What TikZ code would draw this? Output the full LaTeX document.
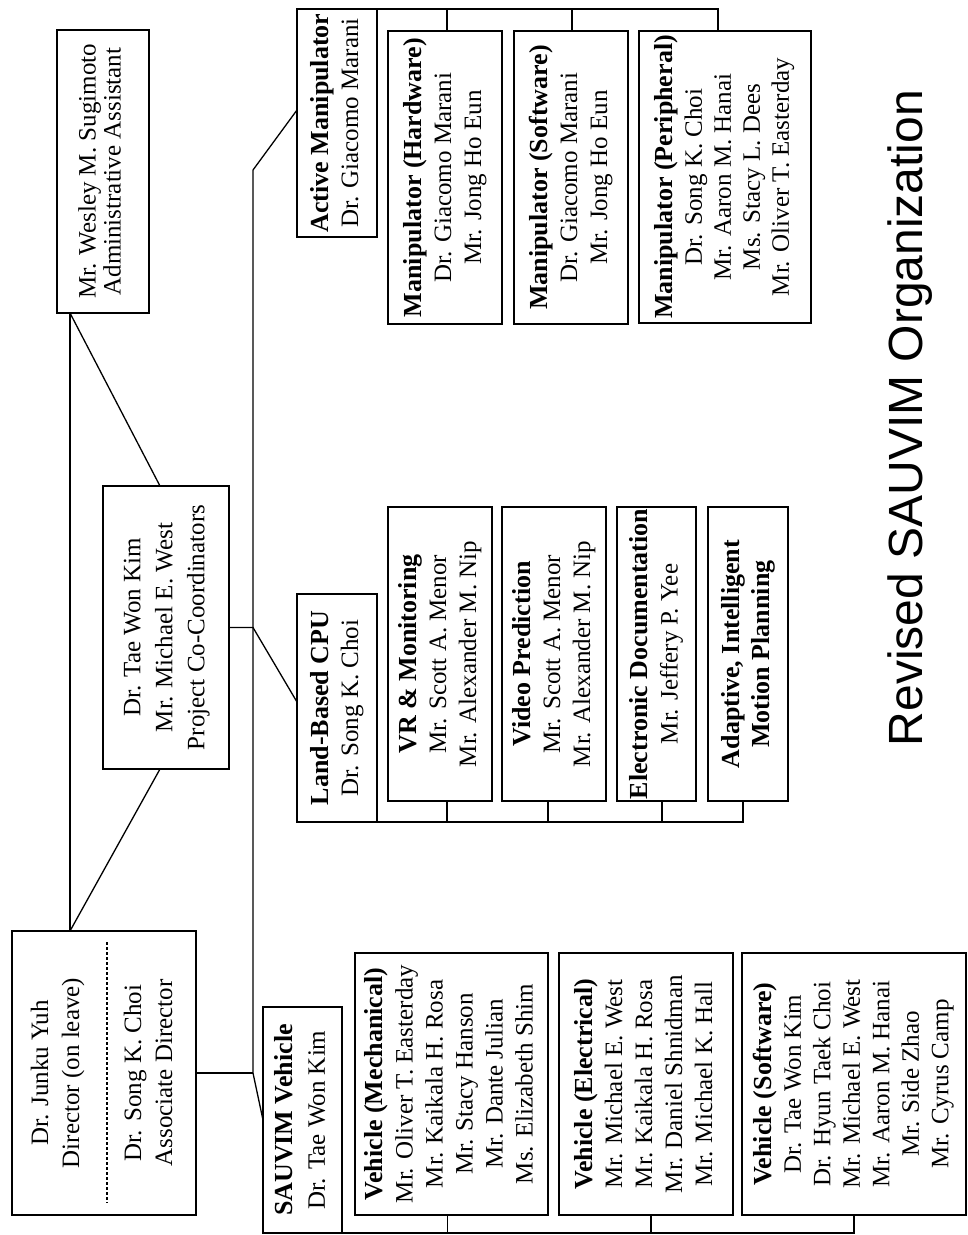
\documentclass[tikz,border=0pt]{standalone}
\usepackage{fontspec}
\setmainfont{Liberation Serif}
\newfontfamily\titlefont{Liberation Sans}
\usetikzlibrary{calc}
\newcommand{\rotlinesx}[1]{\rotatebox{90}{\begin{tabular}{@{}c@{}}#1\end{tabular}}}
\newcommand{\hdtxt}[1]{{\fontsize{26}{30}\selectfont\bfseries #1}}
\begin{document}
\begin{tikzpicture}[x=1pt,y=-1pt,
  box/.style={draw, line width=1.7pt, inner sep=0pt, outer sep=0pt, fill=white,
              font=\fontsize{25}{30}\selectfont},
  conn/.style={line width=1.3pt},
  dashsep/.style={line width=1.2pt, dash pattern=on 3pt off 2pt}
]
\useasboundingbox (0,0) rectangle (968,1235);
\fill[white] (0,0) rectangle (968,1235);

% root level
\node[box, minimum width=92pt, minimum height=283pt, font=\fontsize{25}{25}\selectfont] (sugi) at (103,171.5)
  {\rotlinesx{Mr. Wesley M. Sugimoto\\ Administrative Assistant}};
\node[box, minimum width=126pt, minimum height=283pt, font=\fontsize{25}{32}\selectfont] (coord) at (166,627.5)
  {\rotlinesx{Dr. Tae Won Kim\\ Mr. Michael E. West\\ Project Co-Coordinators}};
\node[box, minimum width=184pt, minimum height=284pt, font=\fontsize{25}{31}\selectfont] (dir) at (104,1073)
  {\rotlinesx{Dr. Junku Yuh\\ Director (on leave)\\ \\ Dr. Song K. Choi\\ Associate Director}};
\draw[dashsep] ($(dir.north west)+(95,11)$) -- ($(dir.north west)+(95,272)$);

% manipulator group
\node[box, minimum width=80pt, minimum height=228pt] (am) at (337,123)
  {\rotlinesx{\hdtxt{Active Manipulator}\\ Dr. Giacomo Marani}};
\node[box, minimum width=114pt, minimum height=293pt] (mh) at (445,177.5)
  {\rotlinesx{\hdtxt{Manipulator (Hardware)}\\ Dr. Giacomo Marani\\ Mr. Jong Ho Eun}};
\node[box, minimum width=114pt, minimum height=293pt] (ms) at (571,177.5)
  {\rotlinesx{\hdtxt{Manipulator (Software)}\\ Dr. Giacomo Marani\\ Mr. Jong Ho Eun}};
\node[box, minimum width=172pt, minimum height=292pt, font=\fontsize{25}{29}\selectfont] (mp) at (725,177)
  {\rotlinesx{\hdtxt{Manipulator (Peripheral)}\\ Dr. Song K. Choi\\ Mr. Aaron M. Hanai\\ Ms. Stacy L. Dees\\ Mr. Oliver T. Easterday}};

% land-based CPU group
\node[box, minimum width=80pt, minimum height=228pt] (cpu) at (337,708)
  {\rotlinesx{\hdtxt{Land-Based CPU}\\ Dr. Song K. Choi}};
\node[box, minimum width=104pt, minimum height=294pt] (vr) at (440,654)
  {\rotlinesx{\hdtxt{VR \& Monitoring}\\ Mr. Scott A. Menor\\ Mr. Alexander M. Nip}};
\node[box, minimum width=104pt, minimum height=294pt] (vp) at (554,654)
  {\rotlinesx{\hdtxt{Video Prediction}\\ Mr. Scott A. Menor\\ Mr. Alexander M. Nip}};
\node[box, minimum width=79pt, minimum height=294pt] (ed) at (656.5,654)
  {\rotlinesx{\hdtxt{Electronic Documentation}\\ Mr. Jeffery P. Yee}};
\node[box, minimum width=80pt, minimum height=294pt] (ai) at (748,654)
  {\rotlinesx{\hdtxt{Adaptive, Intelligent}\\ \hdtxt{Motion Planning}}};

% vehicle group
\node[box, minimum width=79pt, minimum height=226pt, font=\fontsize{25}{32}\selectfont] (sv) at (302.5,1120)
  {\rotlinesx{\hdtxt{SAUVIM Vehicle}\\ Dr. Tae Won Kim}};
\node[box, minimum width=193pt, minimum height=262pt] (vm) at (451.5,1084)
  {\rotlinesx{\hdtxt{Vehicle (Mechanical)}\\ Mr. Oliver T. Easterday\\ Mr. Kaikala H. Rosa\\ Mr. Stacy Hanson\\ Mr. Dante Julian\\ Ms. Elizabeth Shim}};
\node[box, minimum width=174pt, minimum height=262pt] (ve) at (646,1084)
  {\rotlinesx{\hdtxt{Vehicle (Electrical)}\\ Mr. Michael E. West\\ Mr. Kaikala H. Rosa\\ Mr. Daniel Shnidman\\ Mr. Michael K. Hall}};
\node[box, minimum width=224pt, minimum height=262pt, font=\fontsize{25}{29.5}\selectfont] (vs) at (854,1084)
  {\rotlinesx{\hdtxt{Vehicle (Software)}\\ Dr. Tae Won Kim\\ Dr. Hyun Taek Choi\\ Mr. Michael E. West\\ Mr. Aaron M. Hanai\\ Mr. Side Zhao\\ Mr. Cyrus Camp}};

% title
\node[font=\titlefont\fontsize{48}{50}\selectfont, rotate=90, anchor=base, inner sep=0pt] (title) at (922,418)
  {Revised SAUVIM Organization};

% left connectors
\coordinate (sb) at ($(sugi.south west)+(13,0)$);
\coordinate (ct) at ($(coord.north)+(-6,0)$);
\coordinate (cb) at ($(coord.south)+(-6,0)$);
\draw[conn] (sb) -- (sb |- dir.north);
\draw[conn] (sb) -- (ct);
\draw[conn] (cb) -- (sb |- dir.north);

% spine
\coordinate (spT) at (253,170);
\coordinate (spM) at (253,627.5);
\coordinate (spB) at (253,1073);
\coordinate (amw) at ($(am.west)+(0,-13)$);
\coordinate (cpuw) at ($(cpu.west)+(0,-6)$);
\draw[conn] (amw) -- (spT) -- (spB) -- (sv.west);
\draw[conn] (coord.east) -- (spM) -- (cpuw);
\draw[conn] (dir.east) -- (spB);

% manipulator bus
\coordinate (mhs) at ($(mh.north)+(2,0)$);
\coordinate (mss) at ($(ms.north)+(1,0)$);
\coordinate (mps) at ($(mp.north)+(-7,0)$);
\draw[conn] (am.north east) -| (mps);
\draw[conn] (mhs) -- (mhs |- am.north);
\draw[conn] (mss) -- (mss |- am.north);

% CPU bus
\coordinate (vrs) at ($(vr.south)+(7,0)$);
\coordinate (vps) at ($(vp.south)+(-6,0)$);
\coordinate (eds) at ($(ed.south)+(5.5,0)$);
\coordinate (ais) at ($(ai.south)+(-5,0)$);
\draw[conn] (cpu.south east) -| (ais);
\draw[conn] (vrs) -- (vrs |- cpu.south);
\draw[conn] (vps) -- (vps |- cpu.south);
\draw[conn] (eds) -- (eds |- cpu.south);

% vehicle bus
\coordinate (vms) at ($(vm.south)+(-4,0)$);
\coordinate (ves) at ($(ve.south)+(5,0)$);
\draw[conn] (sv.south west) -| (vs.south);
\draw[conn] (vms) -- (vms |- sv.south);
\draw[conn] (ves) -- (ves |- sv.south);
\end{tikzpicture}
\end{document}
